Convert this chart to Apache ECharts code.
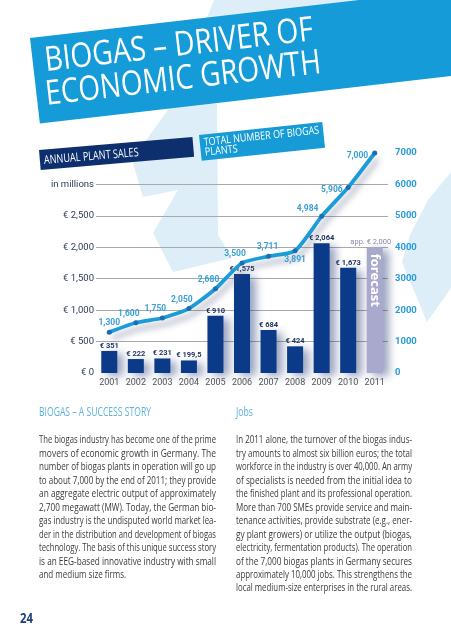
<!DOCTYPE html>
<html><head><meta charset="utf-8">
<script src="https://cdn.jsdelivr.net/npm/echarts@6/dist/echarts.min.js"></script>
<style>html,body{margin:0;padding:0;background:#fff}#c{width:451px;height:640px}</style>
</head><body><div id="c"></div>
<script>
// ---- data ----
const years = ['2001','2002','2003','2004','2005','2006','2007','2008','2009','2010','2011'];
const salesMillions = [351, 222, 231, 199.5, 910, 1575, 684, 424, 2064, 1673, 2000];
const totalPlants = [1300, 1600, 1750, 2050, 2680, 3500, 3711, 3891, 4984, 5906, 7000];
const salesTickLabels = ['€ 0','€ 500','€ 1,000','€ 1,500','€ 2,000','€ 2,500','in millions',''];
const plantTickLabels = ['0','1000','2000','3000','4000','5000','6000','7000'];
const forecastIndex = 10;
const forecastLabel = 'app. € 2,000';

const leftText = [
 'The biogas industry has become one of the prime',
 'movers of economic growth in Germany. The',
 'number of biogas plants in operation will go up',
 'to about 7,000 by the end of 2011; they provide',
 'an aggregate electric output of approximately',
 '2,700 megawatt (MW). Today, the German bio-',
 'gas industry is the undisputed world market lea-',
 'der in the distribution and development of biogas',
 'technology. The basis of this unique success story',
 'is an EEG-based innovative industry with small',
 'and medium size firms.'
];
const rightText = [
 'In 2011 alone, the turnover of the biogas indus-',
 'try amounts to almost six billion euros; the total',
 'workforce in the industry is over 40,000. An army',
 'of specialists is needed from the initial idea to',
 'the finished plant and its professional operation.',
 'More than 700 SMEs provide service and main-',
 'tenance activities, provide substrate (e.g., ener-',
 'gy plant growers) or utilize the output (biogas,',
 'electricity, fermentation products). The operation',
 'of the 7,000 biogas plants in Germany secures',
 'approximately 10,000 jobs. This strengthens the',
 'local medium-size enterprises in the rural areas.'
];

// ---- helpers ----
const F = '"Open Sans", sans-serif';
const AX = 'Roboto, sans-serif';
const mctx = document.createElement('canvas').getContext('2d');
function measure(text, font){ mctx.font = font; return mctx.measureText(text).width; }
function fitText(text, x, y, width, size, family, weight, color, scaleOverride){
  const font = weight + ' ' + size + 'px ' + family;
  const s = scaleOverride || (width / measure(text, font));
  return {type:'text', x:x, y:y, scaleX:s, z:20,
    style:{text:text, font:font, fill:color, align:'left', verticalAlign:'middle', textAlign:'left', textVerticalAlign:'middle'}};
}
function fmtEuro(v){ return (v % 1) ? String(v).replace('.', ',') : v.toLocaleString('en-US'); }

// ---- decorative graphics ----
const pale = '#ddeef9';
const graphics = [];
graphics.push({type:'polygon', z:-10, shape:{points:[[214,0],[451,0],[451,60],[190,60]]}, style:{fill:pale}});
graphics.push({type:'polygon', z:-10, shape:{points:[[175,100],[132,160],[143,197],[178,190],[153,233],[173,272],[232,258],[218,235],[217,104]]}, style:{fill:pale}});
graphics.push({type:'polygon', z:-10, shape:{points:[[451,172],[428,200],[410,235],[402,262],[427,322],[451,288]]}, style:{fill:pale}});

// title banner
graphics.push({type:'group', x:30, y:38, rotation:0.115, z:10, children:[
  {type:'rect', z:10, shape:{x:0,y:0,width:640,height:86}, style:{fill:'#149bd8'}},
  fitText('BIOGAS – DRIVER OF', 12, 25, 270, 34, F, 400, '#ffffff'),
  fitText('ECONOMIC GROWTH', 9, 58.5, 277, 34, F, 400, '#ffffff')
]});
// annual plant sales box
graphics.push({type:'group', x:39, y:150, rotation:0.085, z:10, children:[
  {type:'rect', z:10, shape:{x:0,y:0,width:154,height:20}, style:{fill:'#0d2f6e'}},
  fitText('ANNUAL PLANT SALES', 4, 11, 95, 12, F, 400, '#ffffff')
]});
// total number box
graphics.push({type:'group', x:199, y:135, rotation:0.105, z:10, children:[
  {type:'rect', z:10, shape:{x:0,y:0,width:124,height:26}, style:{fill:'#179bd7'}},
  fitText('TOTAL NUMBER OF BIOGAS', 4, 8, 116, 11, F, 400, '#ffffff'),
  fitText('PLANTS', 4, 18, 33, 11, F, 400, '#ffffff')
]});
// headings
graphics.push(fitText('BIOGAS – A SUCCESS STORY', 39, 413, 112, 12, F, 400, '#5bb3de'));
graphics.push(fitText('Jobs', 236, 413, 17, 12, F, 400, '#5bb3de'));
// body text
function column(lines, x, width, lastFull){
  const font = '400 10.5px ' + F;
  const scales = lines.map(l => width / measure(l, font));
  const avg = scales.slice(0, -1).reduce((a,b)=>a+b,0) / (scales.length - 1);
  lines.forEach((l, i) => {
    const last = i === lines.length - 1 && !lastFull;
    graphics.push(fitText(l, x, 440.5 + 13.45 * i, width, 10.5, F, 400, '#3a3a3a', last ? avg : null));
  });
}
column(leftText, 39, 177, false);
column(rightText, 236, 176, true);
graphics.push(fitText('24', 20, 619, 13, 15, F, 'bold', '#1c3f7c'));

// ---- chart ----
const lineLabelCfg = totalPlants.map((v, i) => {
  if (i === 0) return {offset:[0,0]};
  if (i === 6) return {offset:[-1,0]};
  if (i === 7) return {position:'bottom', offset:[0,0]};
  if (i === 8) return {offset:[-14,2]};
  if (i === 9) return {position:'left', distance:3, offset:[0,2]};
  if (i === 10) return {position:'left', distance:4, offset:[0,3]};
  return {offset:[-7,0]};
});

const chart = echarts.init(document.getElementById('c'), null, {renderer:'canvas'});
chart.setOption({
  backgroundColor:'#ffffff',
  animation:false,
  graphic:{elements:graphics},
  grid:{left:96, right:63, top:153, bottom:267, containLabel:false},
  xAxis:{type:'category', data:years, axisLine:{show:false}, axisTick:{show:false},
    axisLabel:{interval:0, color:'#555555', fontSize:9, fontFamily:AX, margin:5}},
  yAxis:[
    {type:'value', min:0, max:3500, interval:500, axisLine:{show:false}, axisTick:{show:false},
      splitLine:{show:true, showMinLine:false, showMaxLine:false, lineStyle:{color:'#a9a9a9', width:1}},
      axisLabel:{formatter:v => salesTickLabels[Math.round(v/500)], color:'#2e3a58', fontSize:9.5, fontFamily:AX, margin:2}},
    {type:'value', min:0, max:7000, interval:1000, position:'right', axisLine:{show:false}, axisTick:{show:false},
      splitLine:{show:false},
      axisLabel:{formatter:v => plantTickLabels[Math.round(v/1000)], color:'#2a9ad8', fontWeight:'bold', fontSize:9.5, fontFamily:AX, margin:7, padding:[0,0,10,0]}}
  ],
  series:[
    {type:'bar', name:'Annual plant sales', yAxisIndex:0, barWidth:16,
      data: salesMillions.map((v, i) => i === forecastIndex ? {value:v, itemStyle:{color:'#a9a9cd'},
        label:{formatter:forecastLabel, color:'#8a8aa8', fontWeight:'normal', offset:[-4,0]}} : v),
      itemStyle:{color:'#0a3a88', shadowBlur:8, shadowColor:'rgba(30,50,110,0.45)', shadowOffsetX:6, shadowOffsetY:3},
      label:{show:true, position:'top', distance:1, fontSize:7.5, fontFamily:AX, fontWeight:'bold', color:'#1d2f5e',
        formatter:p => '€ ' + fmtEuro(p.value)},
      markPoint:{symbol:'circle', symbolSize:0, silent:true,
        data:[{coord:[forecastIndex, salesMillions[forecastIndex]], value:0,
          label:{show:true, formatter:'forecast', position:'inside', offset:[33,0], rotate:-90, color:'#ffffff', fontSize:13, fontWeight:'bold', fontFamily:F}}]}
    },
    {type:'line', name:'Total number of biogas plants', yAxisIndex:1, smooth:0.2, z:4,
      data: totalPlants.map((v, i) => ({value:v, label:lineLabelCfg[i]})),
      symbol:'circle', symbolSize:5,
      lineStyle:{color:'#1b9bd8', width:3.8, shadowColor:'rgba(70,80,120,0.45)', shadowBlur:6, shadowOffsetX:3, shadowOffsetY:6},
      itemStyle:{color:'#1a6fb0'},
      label:{show:true, position:'top', distance:2, color:'#3a9fd6', fontSize:8.5, fontFamily:AX, fontWeight:'bold',
        formatter:p => p.value.toLocaleString('en-US')}
    }
  ]
});
</script></body></html>
